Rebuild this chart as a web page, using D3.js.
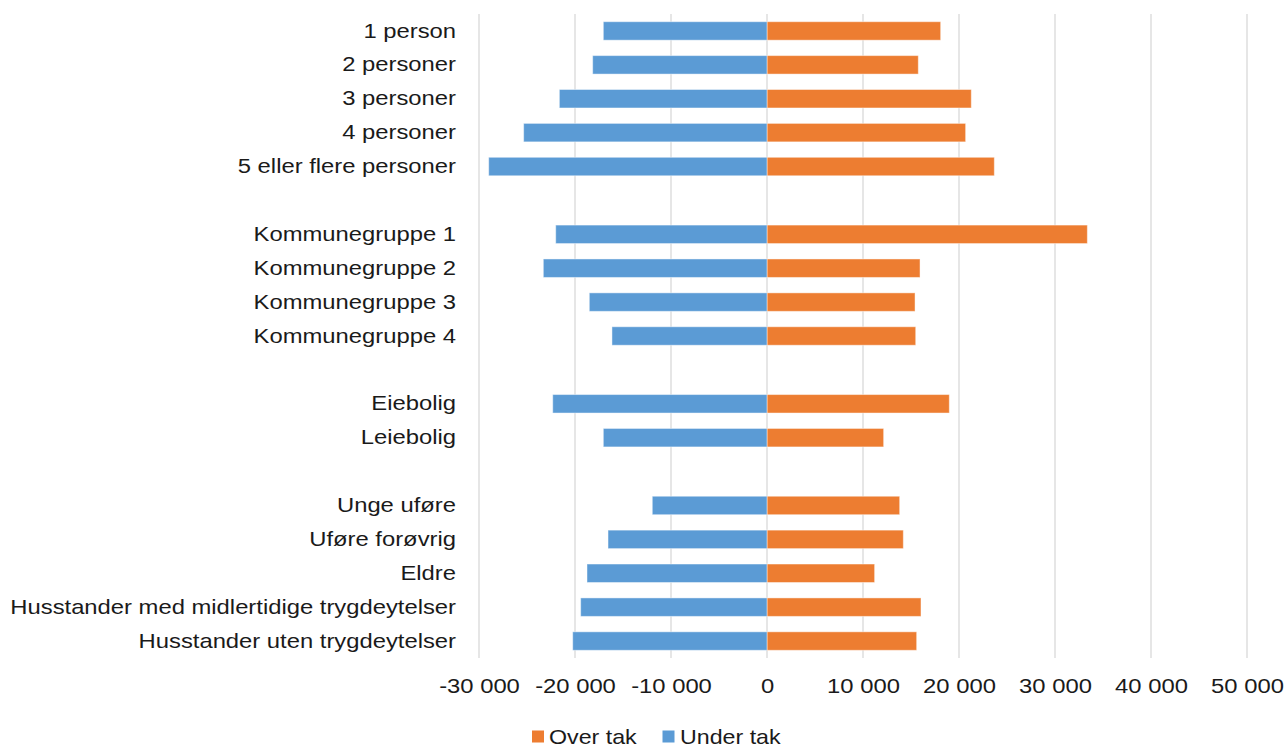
<!DOCTYPE html>
<html>
<head>
<meta charset="utf-8">
<script src="https://cdn.jsdelivr.net/npm/d3@7"></script>
<style>
  html, body { margin: 0; padding: 0; background: #fff; }
  svg { display: block; }
  text { font-family: "Liberation Sans", Arial, sans-serif; fill: #1a1a1a; }
</style>
</head>
<body>
<svg id="chart" width="1288" height="747"></svg>
<script>
const categories = [
  "1 person", "2 personer", "3 personer", "4 personer", "5 eller flere personer",
  "",
  "Kommunegruppe 1", "Kommunegruppe 2", "Kommunegruppe 3", "Kommunegruppe 4",
  "",
  "Eiebolig", "Leiebolig",
  "",
  "Unge uføre", "Uføre forøvrig", "Eldre",
  "Husstander med midlertidige trygdeytelser", "Husstander uten trygdeytelser"
];
const overTak = [18090, 15760, 21280, 20690, 23680, null, 33370, 15940, 15420, 15490, null, 18990, 12150, null, 13820, 14200, 11210, 16040, 15590];
const underTak = [-17050, -18160, -21630, -25350, -28990, null, -22010, -23300, -18510, -16150, null, -22320, -17050, null, -11950, -16560, -18750, -19410, -20240];
const xTicks = [-30000, -20000, -10000, 0, 10000, 20000, 30000, 40000, 50000];
const seriesNames = ["Over tak", "Under tak"];
const seriesColors = ["#ED7D31", "#5B9BD5"];

(function () {
const svg = d3.select("#chart");
const FS = 20.7, SX = 1.15;
const plotLeft = 479, plotRight = 1247, plotTop = 14, plotBottom = 658;

const x = d3.scaleLinear().domain([-30000, 50000]).range([plotLeft, plotRight]);
const y = d3.scaleBand().domain(d3.range(categories.length)).range([plotTop, plotBottom])
  .paddingInner(0.455).paddingOuter(0.2275);

const fmt = v => (v < 0 ? "-" : "") + d3.format(",")(Math.abs(v)).replace(/,/g, " ");

// gridlines
svg.append("g").selectAll("line").data(xTicks).join("line")
  .attr("x1", d => x(d)).attr("x2", d => x(d))
  .attr("y1", plotTop).attr("y2", plotBottom)
  .attr("stroke", "#d9d9d9").attr("stroke-width", 1.3);

// bars
const series = [overTak, underTak];
series.forEach((vals, si) => {
  svg.append("g").selectAll("rect")
    .data(vals.map((v, i) => ({ v, i })).filter(d => d.v !== null))
    .join("rect")
    .attr("x", d => x(Math.min(0, d.v)))
    .attr("width", d => Math.abs(x(d.v) - x(0)))
    .attr("y", d => y(d.i))
    .attr("height", y.bandwidth())
    .attr("fill", seriesColors[si])
    .attr("stroke", "rgba(255,255,255,0.45)")
    .attr("stroke-width", 1);
});

// x axis
const xAxis = svg.append("g").attr("transform", `translate(0,${plotBottom})`)
  .call(d3.axisBottom(x).tickValues(xTicks).tickFormat(fmt).tickSize(0).tickPadding(20.3));
xAxis.select(".domain").remove();
xAxis.selectAll("text")
  .attr("font-size", FS).attr("font-family", "Liberation Sans, Arial, sans-serif")
  .attr("fill", "#1a1a1a")
  .attr("transform", `scale(${SX},1)`);

// y axis (category labels)
const yAxis = svg.append("g").attr("transform", `translate(${plotLeft},0)`)
  .call(d3.axisLeft(y).tickFormat(i => categories[i]).tickSize(0).tickPadding(20));
yAxis.select(".domain").remove();
yAxis.selectAll("text")
  .attr("font-size", FS).attr("font-family", "Liberation Sans, Arial, sans-serif")
  .attr("fill", "#1a1a1a")
  .attr("transform", `scale(${SX},1)`);

// legend
const legendItems = [
  { name: seriesNames[0], color: seriesColors[0], sx: 532, tx: 549 },
  { name: seriesNames[1], color: seriesColors[1], sx: 662.5, tx: 680 }
];
const lg = svg.append("g");
legendItems.forEach(it => {
  lg.append("rect").attr("x", it.sx).attr("y", 730.5).attr("width", 12).attr("height", 12).attr("fill", it.color);
  lg.append("text").attr("transform", `translate(${it.tx},743.5) scale(${SX},1)`)
    .attr("font-size", FS - 0.5).text(it.name);
});
})();
</script>
</body>
</html>
